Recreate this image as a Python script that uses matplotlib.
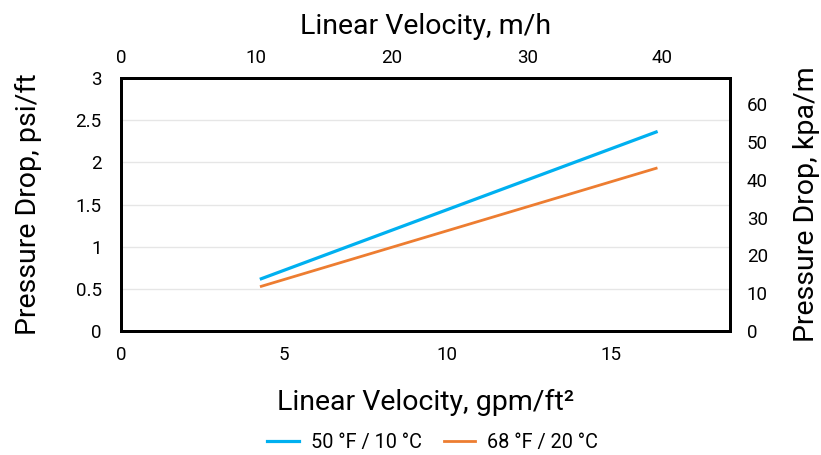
import numpy as np
import matplotlib.pyplot as plt

plt.rcParams['font.family'] = ['Roboto', 'DejaVu Sans']

# values
velocity_gpm = [4.3, 16.4]
drop_50F = [0.62, 2.36]
drop_68F = [0.53, 1.93]
series_labels = ['50 °F / 10 °C', '68 °F / 20 °C']
left_ticks = [0, 0.5, 1, 1.5, 2, 2.5, 3]
right_ticks = [0, 10, 20, 30, 40, 50, 60]
bottom_ticks = [0, 5, 10, 15]
top_ticks = [0, 10, 20, 30, 40]

fig = plt.figure(figsize=(8.21, 4.55), dpi=100)
ax = fig.add_axes([0.1474, 0.2725, 0.742, 0.556])

ax.plot(velocity_gpm, drop_50F, color='#00B0F0', linewidth=2.3, label=series_labels[0])
ax.plot(velocity_gpm, drop_68F, color='#ED7D31', linewidth=2.0, label=series_labels[1])

ax.set_xlim(0, 18.67)
ax.set_ylim(0, 3)
ax.set_xticks(bottom_ticks)
ax.set_yticks(left_ticks)
ax.set_yticklabels(['0', '0.5', '1', '1.5', '2', '2.5', '3'])
ax.grid(axis='y', color='#e6e6e6', linewidth=1)
ax.set_axisbelow(True)
ax.tick_params(axis='x', length=0, labelsize=13.5, pad=11)
ax.tick_params(axis='y', length=0, labelsize=13.5, pad=14)
ax.set_xlabel('Linear Velocity, gpm/ft²', fontsize=20.5, labelpad=18)
ax.set_ylabel('Pressure Drop, psi/ft', fontsize=20.5, labelpad=24)
for s in ax.spines.values():
    s.set_linewidth(2)
    s.set_color('black')

# top axis in m/h
axt = ax.twiny()
axt.set_xlim(0, 45)
axt.set_xticks(top_ticks)
axt.tick_params(length=0, labelsize=13.5, pad=8)
axt.set_xlabel('Linear Velocity, m/h', fontsize=20.5, labelpad=11)
for s in axt.spines.values():
    s.set_linewidth(2)

# right axis in kPa/m
axr = ax.twinx()
axr.set_ylim(0, 66.9)
axr.set_yticks(right_ticks)
axr.tick_params(length=0, labelsize=13.5, pad=12)
axr.set_ylabel('Pressure Drop, kpa/m', fontsize=20.5, labelpad=18)
for s in axr.spines.values():
    s.set_linewidth(2)

h, l = ax.get_legend_handles_labels()
fig.legend(h, l, loc='lower center', bbox_to_anchor=(0.527, -0.032), ncol=2,
           frameon=False, fontsize=14.3, handlelength=1.6, handletextpad=0.6,
           columnspacing=1.1)

fig.savefig('out.png', dpi=100)
